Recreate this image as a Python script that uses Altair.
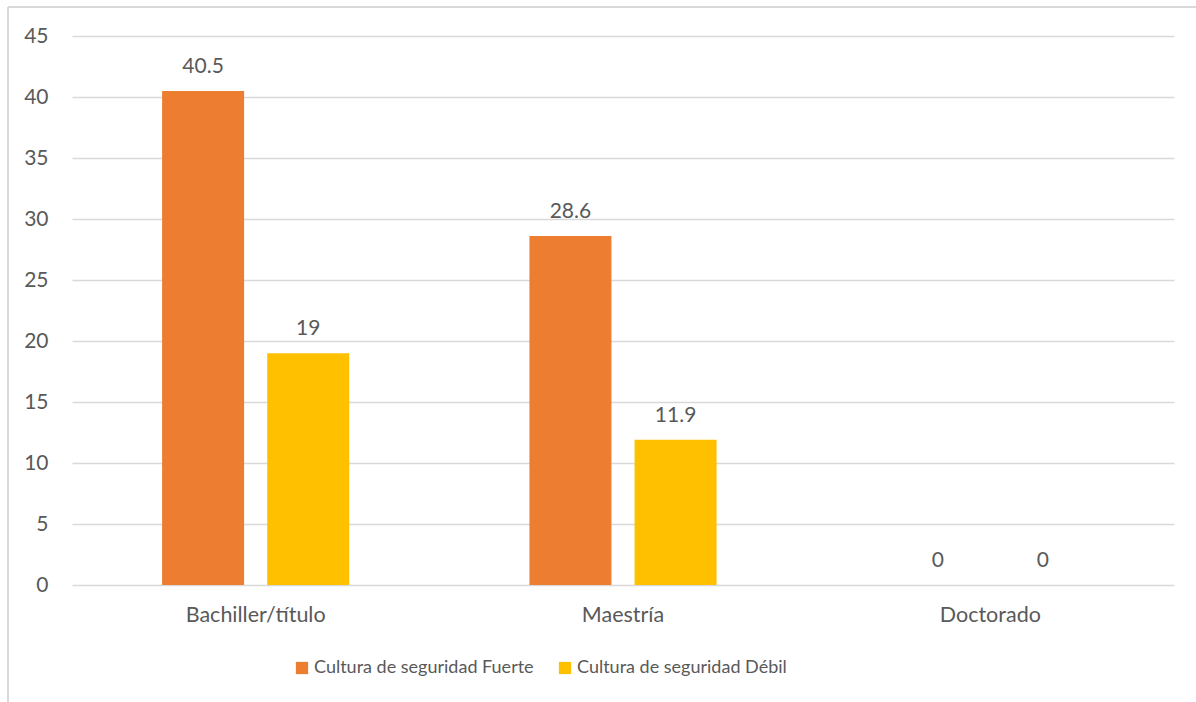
import altair as alt
import pandas as pd

categories = ["Bachiller/título", "Maestría", "Doctorado"]
series = ["Cultura de seguridad Fuerte", "Cultura de seguridad Débil"]
fuerte = [40.5, 28.6, 0]
debil = [19, 11.9, 0]
colors = ["#ED7D31", "#FFC000"]

rows = []
for c, f, d in zip(categories, fuerte, debil):
    rows.append({"cat": c, "serie": series[0], "val": f, "lbl": f"{f:g}"})
    rows.append({"cat": c, "serie": series[1], "val": d, "lbl": f"{d:g}"})
df = pd.DataFrame(rows)

FONT = "Lato"
TXT = "#595959"

base = alt.Chart(df).encode(
    x=alt.X("cat:N", sort=categories, title=None,
            scale=alt.Scale(paddingInner=0, paddingOuter=0),
            axis=alt.Axis(labelAngle=0, domain=False, ticks=False, labelPadding=19,
                          labelFontSize=21.5, labelColor=TXT, labelFont=FONT, grid=False)),
    xOffset=alt.XOffset("serie:N", sort=series,
                        scale=alt.Scale(paddingInner=0.22, paddingOuter=0.857)),
)

bars = base.mark_bar().encode(
    y=alt.Y("val:Q", title=None,
            scale=alt.Scale(domain=[0, 45]),
            axis=alt.Axis(values=list(range(0, 50, 5)), domain=False, ticks=False,
                          labelPadding=24, labelFontSize=21, labelColor=TXT, labelFont=FONT,
                          gridColor="#D9D9D9", gridWidth=1.3)),
    color=alt.Color("serie:N", sort=series,
                    scale=alt.Scale(domain=series, range=colors),
                    legend=alt.Legend(title=None, orient="none", direction="horizontal",
                                      legendX=221, legendY=623,
                                      symbolType="square", symbolSize=150,
                                      symbolStrokeWidth=0, labelFontSize=18,
                                      labelOffset=3, labelColor=TXT, labelFont=FONT,
                                      columnPadding=22, labelLimit=400)),
)

labels = base.mark_text(dy=-14, baseline="bottom", fontSize=21, color=TXT, font=FONT).encode(
    y=alt.Y("val:Q"),
    text="lbl:N",
)

border_left = alt.Chart(df).mark_rule(color="#D9D9D9", strokeWidth=1.3).encode(
    x=alt.value(-64), y=alt.value(-29), y2=alt.value(700)
)
border_top = alt.Chart(df).mark_rule(color="#D9D9D9", strokeWidth=1.3).encode(
    x=alt.value(-64), x2=alt.value(1200), y=alt.value(-29)
)

chart = alt.layer(bars, labels, border_left, border_top).properties(
    width=1102, height=549,
    autosize=alt.AutoSizeParams(type="none"),
    padding={"left": 72, "top": 36, "right": 22, "bottom": 117},
    background="white",
).configure_view(stroke=None)

chart.save("out.html", embed_options={"renderer": "svg", "actions": False})
